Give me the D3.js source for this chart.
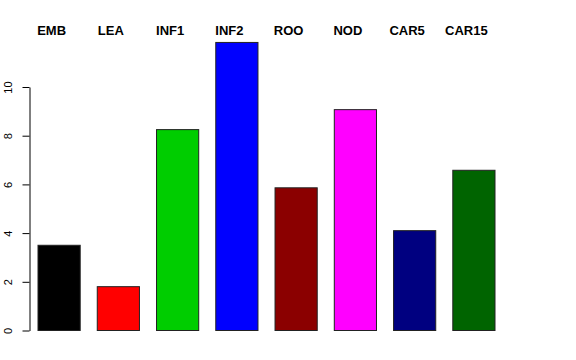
<!DOCTYPE html>
<html>
<head>
<meta charset="utf-8">
<script src="https://cdn.jsdelivr.net/npm/d3@7"></script>
<style>
  body { margin: 0; background: #fff; }
  svg { display: block; font-family: "Liberation Sans", Arial, Helvetica, sans-serif; }
</style>
</head>
<body>
<div id="chart"></div>
<script>
// bar chart, R barplot look
const categories = ["EMB", "LEA", "INF1", "INF2", "ROO", "NOD", "CAR5", "CAR15"];
const values = [3.5, 1.8, 8.25, 11.83, 5.86, 9.07, 4.1, 6.58];
const barColors = ["#000000", "#ff0000", "#00cd00", "#0000ff", "#8b0000", "#ff00ff", "#000080", "#006400"];
const yTicks = [0, 2, 4, 6, 8, 10];

const W = 576, H = 360;

const svg = d3.select("#chart").append("svg")
    .attr("width", W).attr("height", H);

svg.append("rect").attr("width", W).attr("height", H).attr("fill", "#fff");

const x = d3.scaleBand()
    .domain(categories)
    .range([38, 495])
    .paddingInner(0.288)
    .paddingOuter(0);

const y = d3.scaleLinear()
    .domain([0, 10])
    .range([330.5, 87]);

// bars
svg.selectAll(".bar").data(categories).join("rect")
    .attr("class", "bar")
    .attr("x", d => x(d))
    .attr("width", x.bandwidth())
    .attr("y", (d, i) => y(values[i]))
    .attr("height", (d, i) => y(0) - y(values[i]))
    .attr("fill", (d, i) => barColors[i])
    .attr("stroke", "#222")
    .attr("stroke-width", 1);

// y axis
const yAxis = svg.append("g")
    .attr("transform", "translate(29.5,0)")
    .call(d3.axisLeft(y).tickValues(yTicks).tickSize(7).tickSizeOuter(0).tickFormat(d3.format("d")));
yAxis.select(".domain").attr("stroke", "#000");
yAxis.selectAll(".tick line").attr("stroke", "#000");
yAxis.selectAll(".tick text")
    .attr("x", 0).attr("dy", 0)
    .attr("transform", "translate(-17.5,0) rotate(-90)")
    .attr("text-anchor", "middle")
    .attr("font-size", 11)
    .attr("font-family", "Liberation Sans, Arial, sans-serif")
    .attr("fill", "#000");

// category labels along the top
svg.selectAll(".lab").data(categories).join("text")
    .attr("class", "lab")
    .attr("x", d => x(d) + x.bandwidth() / 2 - 7.5)
    .attr("y", 35)
    .attr("text-anchor", "middle")
    .attr("font-size", 13)
    .attr("font-weight", "bold")
    .attr("fill", "#000")
    .text(d => d);
</script>
</body>
</html>
